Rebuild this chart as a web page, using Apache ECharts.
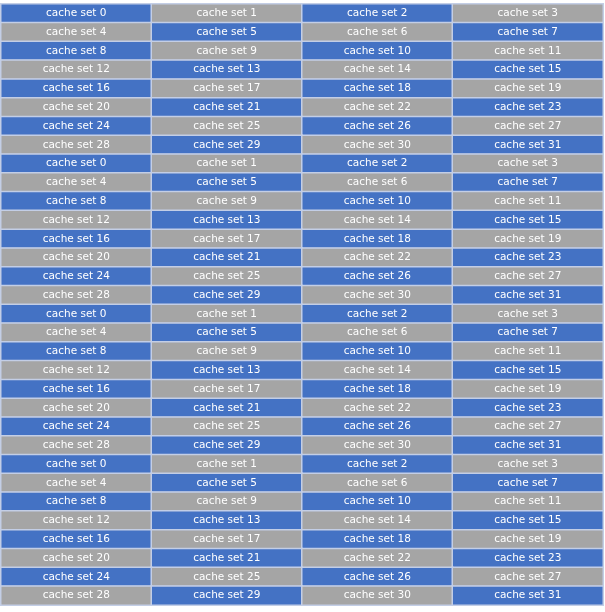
<!DOCTYPE html>
<html>
<head>
<meta charset="utf-8">
<script src="https://cdn.jsdelivr.net/npm/echarts@6/dist/echarts.min.js"></script>
<style>
html,body{margin:0;padding:0;background:#ffffff;}
#chart{width:605px;height:612px;}
</style>
</head>
<body>
<div id="chart"></div>
<script>
// Cache set labels (one block of 32 sets)
const setLabels = [
  'cache set 0','cache set 1','cache set 2','cache set 3',
  'cache set 4','cache set 5','cache set 6','cache set 7',
  'cache set 8','cache set 9','cache set 10','cache set 11',
  'cache set 12','cache set 13','cache set 14','cache set 15',
  'cache set 16','cache set 17','cache set 18','cache set 19',
  'cache set 20','cache set 21','cache set 22','cache set 23',
  'cache set 24','cache set 25','cache set 26','cache set 27',
  'cache set 28','cache set 29','cache set 30','cache set 31'
];
// Colour class of each set within a block: 0 = blue, 1 = gray
const setColorClass = [
  0,1,0,1,
  1,0,1,0,
  0,1,0,1,
  1,0,1,0,
  0,1,0,1,
  1,0,1,0,
  0,1,0,1,
  1,0,1,0
];
// Number of repeated blocks stacked vertically
const blockCount = 4;
const columnsPerRow = 4;
const columnCategories = ['0','1','2','3'];

const palette = ['#4472C4', '#A5A5A5'];

const rowCount = blockCount * setLabels.length / columnsPerRow;
const rowCategories = [];
for (let r = 0; r < rowCount; r++) rowCategories.push(String(r));

const data = [];
for (let b = 0; b < blockCount; b++) {
  for (let s = 0; s < setLabels.length; s++) {
    const x = s % columnsPerRow;
    const y = b * (setLabels.length / columnsPerRow) + Math.floor(s / columnsPerRow);
    data.push({
      value: [x, y, setColorClass[s], s],
      itemStyle: { color: palette[setColorClass[s]] }
    });
  }
}

const chart = echarts.init(document.getElementById('chart'), null, { renderer: 'canvas' });
chart.setOption({
  animation: false,
  backgroundColor: '#ffffff',
  grid: { left: 1, right: 2, top: 4, bottom: 7 },
  xAxis: {
    type: 'category', data: columnCategories, show: false,
    splitArea: { show: false }
  },
  yAxis: {
    type: 'category', data: rowCategories, inverse: true, show: false,
    splitArea: { show: false }
  },
  series: [{
    type: 'heatmap',
    data: data,
    itemStyle: { borderColor: '#C3CEE6', borderWidth: 1.5 },
    label: {
      show: true,
      color: '#ffffff',
      fontFamily: 'DejaVu Sans',
      fontSize: 10.5,
      formatter: function (p) { return setLabels[p.value[3]]; }
    },
    emphasis: { disabled: true }
  }]
});
</script>
</body>
</html>
